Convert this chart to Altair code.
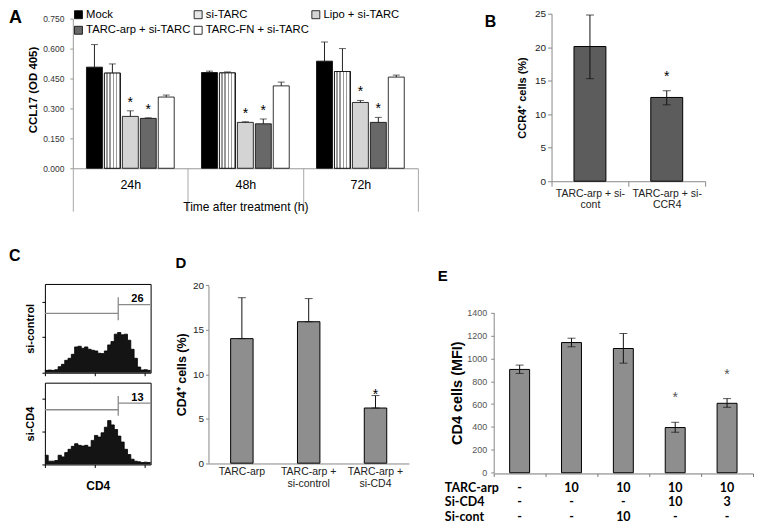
import math
import altair as alt
import pandas as pd

FONT = "Liberation Sans"

# ---------------- Panel A data ----------------
a_times = ["24h", "48h", "72h"]
a_groups = ["Mock", "si-TARC", "Lipo + si-TARC", "TARC-arp + si-TARC", "TARC-FN + si-TARC"]
a_mock = [0.507, 0.480, 0.537]
a_mock_err = [0.113, 0.007, 0.096]
a_sitarc = [0.477, 0.478, 0.485]
a_sitarc_err = [0.046, 0.005, 0.115]
a_lipo = [0.260, 0.230, 0.330]
a_lipo_err = [0.028, 0.003, 0.010]
a_arp = [0.250, 0.223, 0.230]
a_arp_err = [0.003, 0.024, 0.025]
a_fn = [0.357, 0.413, 0.457]
a_fn_err = [0.010, 0.019, 0.010]
a_sig = ["Lipo + si-TARC", "TARC-arp + si-TARC"]
a_colors = ["#000000", "#e6e6e6", "#d4d4d4", "#686868", "#ffffff"]

# ---------------- Panel B data ----------------
b_cats = ["TARC-arp + si-\ncont", "TARC-arp + si-\nCCR4"]
b_vals = [20.1, 12.5]
b_lo = [15.3, 11.4]
b_hi = [24.8, 13.5]
b_sig = [False, True]

# ---------------- Panel C data (histograms) ----------------
c_ctrl = [7, 8, 7, 9, 18, 25, 37, 43, 55, 77, 79, 73, 77, 70, 67, 65,
          58, 57, 65, 83, 93, 115, 120, 113, 115, 97, 70, 43, 17, 8, 9, 7]
c_cd4 = [28, 10, 10, 12, 28, 23, 36, 46, 55, 63, 58, 56, 58, 53, 73, 88,
         83, 96, 113, 133, 120, 106, 86, 68, 46, 30, 16, 10, 8, 6, 7, 6]
c_ctrl_gate = [22.2, 177, 157, 225, 203]   # gate x, left level, vertical lo, vertical hi, right level
c_cd4_gate = [22.2, 166, 148, 208, 186]
c_ctrl_pct = "26"
c_cd4_pct = "13"

# ---------------- Panel D data ----------------
d_cats = ["TARC-arp", "TARC-arp +\nsi-control", "TARC-arp +\nsi-CD4"]
d_vals = [14.0, 15.9, 6.2]
d_err = [4.6, 2.6, 1.4]
d_sig = [False, False, True]

# ---------------- Panel E data ----------------
e_cats = ["1", "2", "3", "4", "5"]
e_vals = [903, 1138, 1086, 395, 607]
e_lo = [868, 1101, 958, 354, 572]
e_hi = [941, 1176, 1217, 441, 648]
e_sig = [False, False, False, True, True]
e_rows = ["TARC-arp", "Si-CD4", "Si-cont"]
e_tarc = ["-", "10", "10", "10", "10"]
e_sicd4 = ["-", "-", "-", "10", "3"]
e_sicont = ["-", "-", "10", "-", "-"]


def letter(txt, dx, dy, size):
    return alt.Chart(pd.DataFrame({"t": [txt]})).mark_text(
        align="left", baseline="top", fontSize=size, fontWeight="bold", font=FONT, color="black"
    ).encode(text="t:N", x=alt.value(dx), y=alt.value(dy))


# ======================= Panel A =======================
a_series = [a_mock, a_sitarc, a_lipo, a_arp, a_fn]
a_errs = [a_mock_err, a_sitarc_err, a_lipo_err, a_arp_err, a_fn_err]
bar_rows, err_rows, cap_rows, star_rows = [], [], [], []
for g, vals, errs in zip(a_groups, a_series, a_errs):
    for t, v, e in zip(a_times, vals, errs):
        bar_rows.append({"time": t, "group": g, "value": v})
        err_rows.append({"time": t, "group": g, "value": v, "value2": v + e})
        cap_rows.append({"time": t, "group": g, "value": v + e})
        if g in a_sig:
            star_rows.append({"time": t, "group": g, "value": v + e})

A_W, A_H = 346, 155
ax = alt.X("time:N", sort=a_times,
           scale=alt.Scale(domain=a_times, paddingInner=0, paddingOuter=0),
           axis=alt.Axis(tickBand="extent", tickSize=43, tickColor="#aaaaaa", domainColor="#999999",
                         labelFontSize=12.5, labelColor="black", labelPadding=-33, labelAngle=0,
                         title="Time after treatment (h)", titleFontSize=12, titleFontWeight="normal",
                         titleColor="black", titleY=38, titleBaseline="middle"))
axo = alt.XOffset("group:N", sort=a_groups,
                  scale=alt.Scale(domain=a_groups, paddingInner=0.111, paddingOuter=0.76))
ay = alt.Y("value:Q", scale=alt.Scale(domain=[0, 0.75], range=[A_H, 5]),
           axis=alt.Axis(values=[0, 0.15, 0.3, 0.45, 0.6, 0.75], format=".3f", labelFontSize=8.5,
                         labelColor="#333333", tickSize=3, tickColor="#999999", domainColor="#999999",
                         labelPadding=6, grid=False,
                         title="CCL17  (OD 405)", titleFontSize=11.5, titleFontWeight="bold",
                         titleColor="black", titleAngle=-90, titleX=-39, titleY=76,
                         titleAlign="center", titleBaseline="middle"))

stripe_stops = []
n_str = 5
for i in range(n_str):
    stripe_stops += [
        alt.GradientStop(color="#ffffff", offset=i / n_str),
        alt.GradientStop(color="#ffffff", offset=(i + 0.55) / n_str),
        alt.GradientStop(color="#9a9a9a", offset=(i + 0.55) / n_str),
        alt.GradientStop(color="#9a9a9a", offset=(i + 1) / n_str),
    ]
stripe_grad = alt.LinearGradient(gradient="linear", stops=stripe_stops, x1=0, x2=1, y1=0, y2=0)

a_bars = alt.Chart(pd.DataFrame(bar_rows)).mark_bar(stroke="black", strokeWidth=0.8).encode(
    x=ax, xOffset=axo, y=ay,
    color=alt.Color("group:N", sort=a_groups, scale=alt.Scale(domain=a_groups, range=a_colors),
                    legend=alt.Legend(orient="none", legendX=0, legendY=-5, columns=3,
                                      direction="horizontal", title=None, symbolType="square",
                                      symbolSize=64, symbolStrokeColor="black", symbolStrokeWidth=0.8,
                                      labelFontSize=11.3, labelFont=FONT, labelColor="black",
                                      rowPadding=3, columnPadding=1, labelOffset=2, padding=0,
                                      labelLimit=300)))
a_stripes = alt.Chart(pd.DataFrame(bar_rows)).transform_filter(
    alt.datum.group == "si-TARC").mark_bar(fill=stripe_grad, stroke="black", strokeWidth=0.8).encode(
    x=ax, xOffset=axo, y=ay)
a_err = alt.Chart(pd.DataFrame(err_rows)).mark_rule(color="#222222", strokeWidth=1).encode(
    x=ax, xOffset=axo, y=ay, y2="value2:Q")
a_caps = alt.Chart(pd.DataFrame(cap_rows)).mark_tick(size=7, thickness=1, color="#222222").encode(
    x=ax, xOffset=axo, y=ay)
a_stars = alt.Chart(pd.DataFrame(star_rows)).mark_text(
    text="*", fontSize=14, dy=-4, baseline="alphabetic", font=FONT, color="black").encode(
    x=ax, xOffset=axo, y=ay)
panel_a = alt.layer(a_bars, a_stripes, a_err, a_caps, a_stars, letter("A", -64, -5, 18)).properties(
    width=A_W, height=A_H).resolve_legend(color="independent")


# ======================= generic bar panel =======================
def bar_panel(cats, vals, lo, hi, sig, width, height, y_dom, y_range, y_vals, y_title, title_x,
              title_size, bar_color, band_frac, cap_size, star_dy, x_axis_kw, y_axis_kw, star_color="black"):
    xs = alt.X("cat:N", sort=cats, scale=alt.Scale(domain=cats, paddingInner=0, paddingOuter=0),
               axis=alt.Axis(title=None, labelAngle=0, **x_axis_kw))
    ys = alt.Y("value:Q", scale=alt.Scale(domain=y_dom, range=y_range),
               axis=alt.Axis(values=y_vals, grid=False, title=y_title, titleFontSize=title_size,
                             titleFontWeight="bold", titleColor="black", titleAngle=-90,
                             titleX=title_x, titleY=(y_range[0] + y_range[1]) / 2,
                             titleAlign="center", titleBaseline="middle", format="d", **y_axis_kw))
    bars = alt.Chart(pd.DataFrame({"cat": cats, "value": vals})).mark_bar(
        color=bar_color, stroke="black", strokeWidth=1, width=alt.RelativeBandSize(band_frac)).encode(x=xs, y=ys)
    err = alt.Chart(pd.DataFrame({"cat": cats, "value": lo, "value2": hi})).mark_rule(
        color="#111111", strokeWidth=1).encode(x=xs, y=ys, y2="value2:Q")
    caps = alt.Chart(pd.DataFrame({"cat": cats * 2, "value": list(lo) + list(hi)})).mark_tick(
        size=cap_size, thickness=1, color="#111111").encode(x=xs, y=ys)
    sc = [c for c, s in zip(cats, sig) if s]
    sv = [h for h, s in zip(hi, sig) if s]
    stars = alt.Chart(pd.DataFrame({"cat": sc, "value": sv})).mark_text(
        text="*", fontSize=14, dy=star_dy, baseline="alphabetic", font=FONT, color=star_color).encode(x=xs, y=ys)
    return [bars, err, caps, stars], xs


# ======================= Panel B =======================
B_W, B_H = 154, 168
b_layers, _ = bar_panel(
    b_cats, b_vals, b_lo, b_hi, b_sig, B_W, B_H, [0, 25], [B_H, 0], [0, 5, 10, 15, 20, 25],
    "CCR4\u207a  cells (%)", -29, 11, "#5c5c5c", 32 / 77, 8, -10,
    dict(tickBand="extent", tickSize=5, tickColor="#888888", domainColor="#888888",
         labelFontSize=10.5, labelColor="#222222", labelLineHeight=11.5, labelPadding=2,
         labelExpr="split(datum.label, '\\n')"),
    dict(labelFontSize=10, labelColor="#222222", tickSize=4, tickColor="#888888",
         domainColor="#888888", labelPadding=2))
panel_b = alt.layer(*b_layers, letter("B", -67, 0, 16)).properties(width=B_W, height=B_H)


# ======================= Panel C =======================
C_W = 106
x_ticks = [d * 8 + 8 * math.log10(k) for d in range(4) for k in range(1, 10)] + [32]


def hist_panel(counts, h_dom, height, gate, pct, ytitle, show_xtitle, extra=None):
    xs_full = list(range(len(counts))) + [len(counts)]
    hs_full = list(counts) + [counts[-1]]
    df = pd.DataFrame({"x": xs_full, "h": hs_full})
    xenc = alt.X("x:Q", scale=alt.Scale(domain=[0, 32], nice=False),
                 axis=alt.Axis(values=x_ticks, labels=False, tickSize=3, tickColor="black",
                               domain=False, grid=False,
                               title="CD4" if show_xtitle else None, titleFontSize=12,
                               titleFontWeight="bold", titleColor="black", titleY=21,
                               titleBaseline="middle"))
    yenc = alt.Y("h:Q", scale=alt.Scale(domain=[0, h_dom], nice=False),
                 axis=alt.Axis(values=[h_dom * i / 10 for i in range(11)], labels=False, tickSize=3,
                               tickColor="black", domain=False, grid=False, title=ytitle,
                               titleFontSize=11, titleFontWeight="bold", titleColor="black",
                               titleAngle=-90, titleX=-14, titleY=height / 2, titleAlign="center",
                               titleBaseline="middle"))
    area = alt.Chart(df).mark_area(interpolate="step-after", color="#141414", opacity=1,
                                   fillOpacity=1,
                                   line={"color": "black", "strokeWidth": 0.8}).encode(x=xenc, y=yenc)
    gx, gl, gv0, gv1, gr = gate
    gdf = pd.DataFrame({"x": [0, gx, gx], "x2": [gx, gx, 32], "h": [gl, gv0, gr], "h2": [gl, gv1, gr]})
    grule = alt.Chart(gdf).mark_rule(color="#8a8a8a", strokeWidth=1.3).encode(
        x=alt.X("x:Q", scale=alt.Scale(domain=[0, 32], nice=False)), x2="x2:Q",
        y=alt.Y("h:Q", scale=alt.Scale(domain=[0, h_dom], nice=False)), y2="h2:Q")
    lab = alt.Chart(pd.DataFrame({"x": [28.0], "h": [gr + (gv1 - gr) * 0.75], "t": [pct]})).mark_text(
        fontSize=11, fontWeight="bold", font=FONT, color="black", baseline="middle").encode(
        x="x:Q", y="h:Q", text="t:N")
    layers = [area, grule, lab]
    if extra is not None:
        layers.append(extra)
    return alt.layer(*layers).properties(
        width=C_W, height=height, view=alt.ViewBackground(stroke="black", strokeWidth=1))


c_top = hist_panel(c_ctrl, 265, 89, c_ctrl_gate, c_ctrl_pct, "si-control", False,
                   letter("C", -36, -36, 16))
c_bot = hist_panel(c_cd4, 248, 82, c_cd4_gate, c_cd4_pct, "si-CD4", True)
panel_c = alt.vconcat(c_top, c_bot, spacing=10, bounds="flush")


# ======================= Panel D =======================
D_W, D_H = 201, 180
d_hi = [v + e for v, e in zip(d_vals, d_err)]
d_layers, _ = bar_panel(
    d_cats, d_vals, d_vals, d_hi, d_sig, D_W, D_H, [0, 20], [179.7, 1.3], [0, 5, 10, 15, 20],
    "CD4\u207a cells (%)", -27, 12.5, "#8e8e8e", 22.5 / 67, 8, 3,
    dict(ticks=False, domainColor="#888888", labelFontSize=10.5, labelColor="#222222",
         labelLineHeight=12.3, labelPadding=3, labelExpr="split(datum.label, '\\n')"),
    dict(labelFontSize=10, labelColor="#222222", tickSize=3, tickColor="#888888",
         domainColor="#888888", labelPadding=2))
panel_d = alt.layer(*d_layers, letter("D", -33, -28, 15)).properties(width=D_W, height=D_H)


# ======================= Panel E =======================
E_W, E_H = 260, 190
e_layers, e_x = bar_panel(
    e_cats, e_vals, e_lo, e_hi, e_sig, E_W, E_H, [0, 1400], [189.3, 28.7],
    [0, 200, 400, 600, 800, 1000, 1200, 1400], "CD4 cells (MFI)", -36.5, 14.5, "#8e8e8e",
    20 / 52, 8, -20,
    dict(tickBand="extent", tickSize=3, tickColor="#777777", domainColor="#777777", labels=False),
    dict(labelFontSize=9, labelColor="#555555", tickSize=3, tickColor="#888888",
         domainColor="#888888", labelPadding=4),
    star_color="#555555")
row_y = [204.7, 218.9, 233.6]
table_layers = []
for name, vals, yy in zip(e_rows, [e_tarc, e_sicd4, e_sicont], row_y):
    table_layers.append(
        alt.Chart(pd.DataFrame({"cat": e_cats, "t": vals})).mark_text(
            font="Lato", fontWeight="bold", fontSize=12.5, color="black", baseline="middle").encode(
            x=e_x, y=alt.value(yy), text="t:N"))
    table_layers.append(
        alt.Chart(pd.DataFrame({"t": [name]})).mark_text(
            font="Lato", fontWeight="bold", fontSize=12.5, color="black", baseline="middle",
            align="left").encode(x=alt.value(-49), y=alt.value(yy), text="t:N"))
panel_e = alt.layer(*e_layers, *table_layers, letter("E", -56, -15, 15)).properties(
    width=E_W, height=E_H)

# ======================= Layout =======================
# (with flush bounds a nested concat counts as zero size, so spacings measure from its origin)
spacer = alt.Chart(pd.DataFrame({"v": [0]})).mark_point(opacity=0).encode(
    x=alt.value(0), y=alt.value(0)).properties(width=28, height=10)

top = alt.hconcat(spacer, alt.hconcat(panel_a, panel_b, spacing=134, bounds="flush"),
                  spacing=0, bounds="flush")
bottom = alt.hconcat(panel_c, alt.hconcat(panel_d, panel_e, spacing=85, bounds="flush"),
                     spacing=164, bounds="flush")
chart = alt.vconcat(top, bottom, spacing=271, bounds="flush").properties(
    padding=0, background="white"
).configure(font=FONT).configure_view(stroke=None).configure_axis(grid=False)

chart.save("out.html", embed_options={"renderer": "svg", "actions": False})
